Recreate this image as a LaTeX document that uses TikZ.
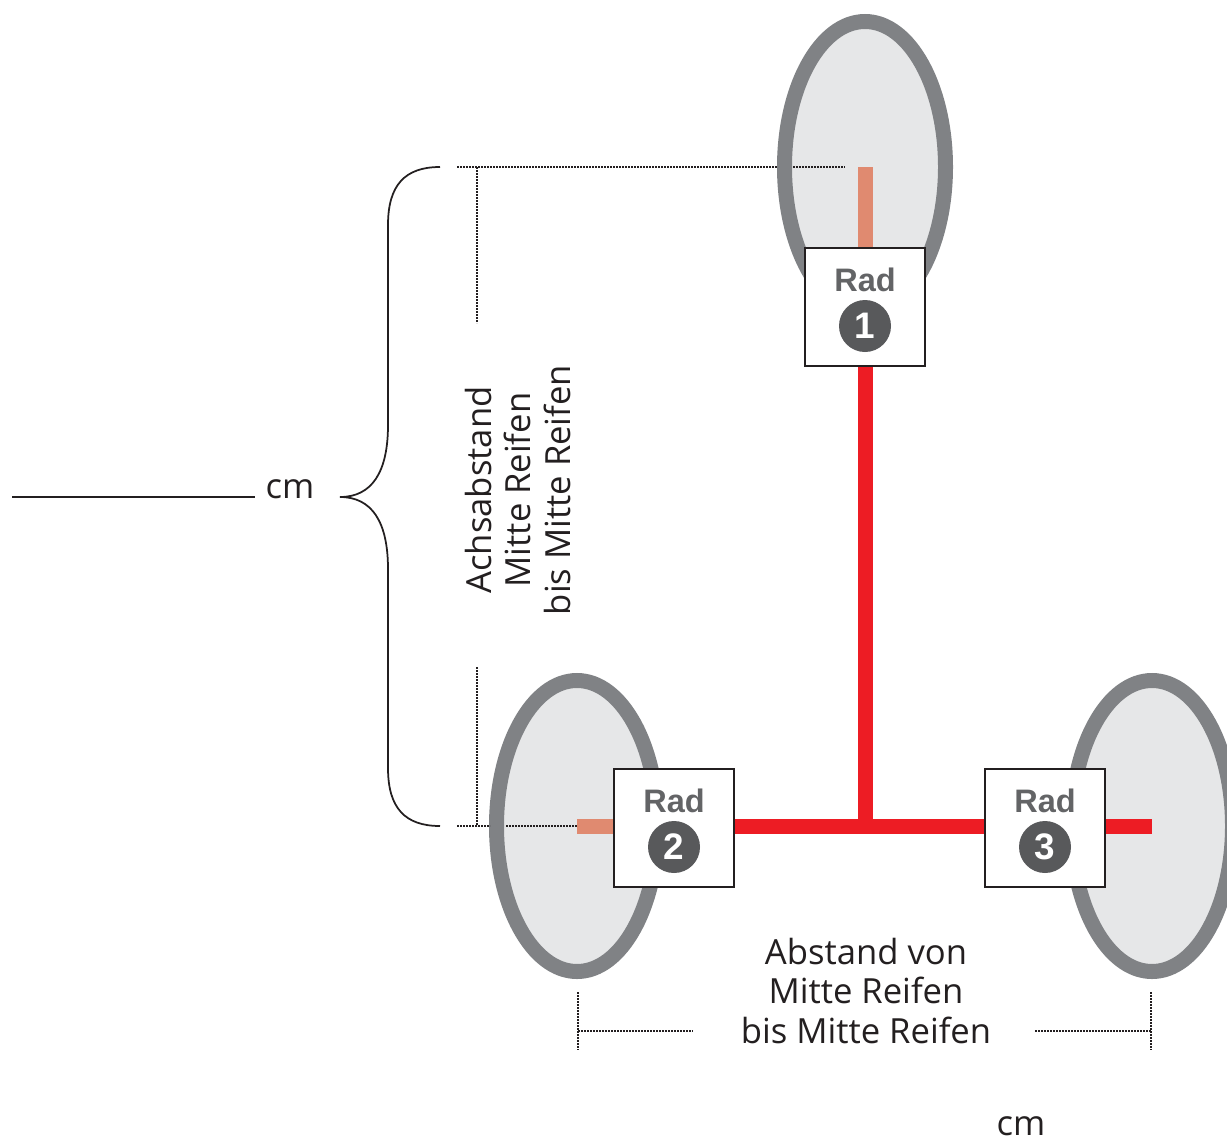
\documentclass[tikz,border=0pt]{standalone}
\usepackage{fontspec}
\setmainfont{Open Sans}
\newfontfamily\radfont{Liberation Sans}
\usepackage{xcolor}
\usepackage{tikz}
\usetikzlibrary{positioning,calc,shapes.geometric}
\definecolor{RimGray}{RGB}{128,130,133}
\definecolor{HubGray}{RGB}{230,231,232}
\definecolor{AxleRed}{RGB}{237,28,36}
\definecolor{StubOrange}{RGB}{224,138,112}
\definecolor{LabelGray}{RGB}{99,100,102}
\definecolor{BadgeGray}{RGB}{88,89,91}
\definecolor{InkBlack}{RGB}{35,31,32}
\tikzset{
    wheel/.style={ellipse, draw=RimGray, fill=HubGray, line width=3mm, minimum width=32.2mm, minimum height=58.2mm, inner sep=0pt},
    radbox/.style={draw=InkBlack, fill=white, line width=0.3mm, minimum width=24mm, minimum height=23.6mm, inner sep=0pt},
    axle/.style={draw=AxleRed, line width=3mm},
    stub/.style={draw=StubOrange, line width=3mm},
    guide/.style={draw=InkBlack, line width=0.3mm, dash pattern=on 0.3mm off 0.3mm},
    brace/.style={draw=InkBlack, line width=0.35mm}
}

\begin{document}
\begin{tikzpicture}[
                x=0.2mm, y=-0.2mm,
                % Beschriftung im Kasten (fett, grau)
                radlabel/.style={
                    text=LabelGray,
                    font=\radfont\bfseries\fontsize{18.5}{18.5}\selectfont,
                    inner sep=0pt
                },
                % Nummer im dunklen Kreis
                badge/.style={
                    circle,
                    fill=BadgeGray,
                    text=white,
                    minimum size=10.4mm,
                    inner sep=0pt,
                    font=\radfont\bfseries\fontsize{21}{21}\selectfont
                },
                % Masstexte
                dimtext/.style={
                    text=InkBlack,
                    align=center,
                    inner sep=0pt,
                    font=\fontsize{19.7}{22.2}\selectfont
                }
            ]
                \useasboundingbox (0,0) rectangle (1227,1146);
                \clip (0,0) rectangle (1227,1146);

                % --- RAEDER ---
                \node[wheel] (wheel1) at (865,167) {};
                \node[wheel] (wheel2) at (577,826) {};
                \node[wheel] (wheel3) at (1152,826) {};

                % --- KAESTEN ---
                \node[radbox] (rad1) at (865,307) {};
                \node[radbox] (rad2) at (674,828) {};
                \node[radbox] (rad3) at (1045,828) {};
                \node[radlabel] (rad1text) at ($(rad1.center)+(0,-27)$) {Rad};
                \node[badge] (num1) at ($(rad1.center)+(0,19)$) {1};
                \node[radlabel] (rad2text) at ($(rad2.center)+(0,-27)$) {Rad};
                \node[badge] (num2) at ($(rad2.center)+(0,19)$) {2};
                \node[radlabel] (rad3text) at ($(rad3.center)+(0,-27)$) {Rad};
                \node[badge] (num3) at ($(rad3.center)+(0,19)$) {3};

                % --- ACHSEN ---
                \coordinate (joint) at (rad1.south |- wheel2.center);
                \draw[stub] (wheel1.center) -- (rad1.north);
                \draw[stub] (wheel2.center) -- (rad2.west |- wheel2.center);
                \draw[axle] (rad1.south) -- (joint);
                \draw[axle] (rad2.east |- joint) -- (rad3.west |- joint);
                \draw[axle] (rad3.east |- wheel3.center) -- (wheel3.center);

                % --- MASSLINIEN ---
                \draw[guide] (457,167) -- (777,167);
                \draw[guide] (793,167) -- (845,167);
                \draw[guide] (477,167) -- (477,323);
                \draw[guide] (457,826) -- (490,826);
                \draw[guide] (506,826) -- (wheel2.center);
                \draw[guide] (477,667) -- (477,826);
                \draw[guide] (578,992) -- (578,1050);
                \draw[guide] (1151,992) -- (1151,1050);
                \draw[guide] (578,1031) -- (693,1031);
                \draw[guide] (1035,1031) -- (1151,1031);

                % geschweifte Klammer
                \coordinate (braceTop) at (440,167);
                \coordinate (braceTip) at (340,497);
                \coordinate (braceBot) at (440,826);
                \draw[brace] (braceTop) .. controls (405,167) and (388,185) .. (388,225)
                    -- (388,425) .. controls (388,472) and (372,497) .. (braceTip)
                    .. controls (372,497) and (388,522) .. (388,569)
                    -- (388,768) .. controls (388,808) and (405,826) .. (braceBot);

                % --- TEXTE ---
                \node[dimtext] (cmleft) at (290,489) {cm};
                \coordinate (lineStart) at (12,497);
                \draw[brace] (lineStart) -- (255,497);
                \node[dimtext, rotate=90] (achs) at (518,490) {Achsabstand\\Mitte Reifen\\bis Mitte Reifen};
                \node[dimtext] (abst) at (866,991) {Abstand von\\Mitte Reifen\\bis Mitte Reifen};
                \node[dimtext] (cmbottom) at (1021,1126) {cm};

            \end{tikzpicture}
\end{document}
